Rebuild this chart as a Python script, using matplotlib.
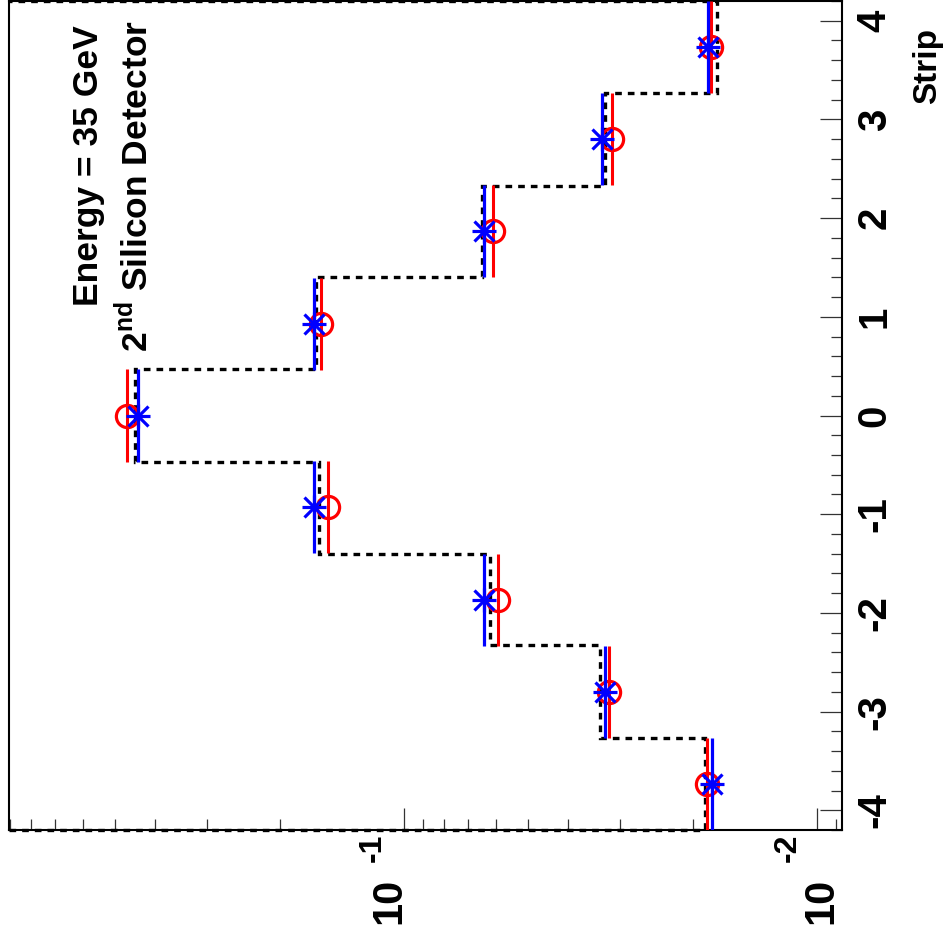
import numpy as np
import matplotlib
matplotlib.use("Agg")
from matplotlib import pyplot as plt
from matplotlib import transforms

plt.rcParams['font.family'] = ['Liberation Sans', 'DejaVu Sans']
plt.rcParams['font.weight'] = 'bold'
plt.rcParams['mathtext.fontset'] = 'custom'
plt.rcParams['mathtext.rm'] = 'Liberation Sans:bold'
plt.rcParams['mathtext.bf'] = 'Liberation Sans:bold'
plt.rcParams['axes.unicode_minus'] = False

# strip bins (the picture is a ROOT plot turned by 90 degrees)
strip_centers = [-3.73, -2.8, -1.87, -0.93, 0.0, 0.93, 1.87, 2.8, 3.73]
strip_edges = [-4.2, -3.27, -2.33, -1.4, -0.47, 0.47, 1.4, 2.33, 3.27, 4.2]
half_width = 0.467

# values per strip
hist_vals = [0.0187, 0.0335, 0.0619, 0.1606, 0.448, 0.1633, 0.0647, 0.0326, 0.0175]
red_vals = [0.0185, 0.0319, 0.0592, 0.153, 0.469, 0.159, 0.0609, 0.0314, 0.0181]
blue_vals = [0.0180, 0.0326, 0.0640, 0.165, 0.4417, 0.1656, 0.0640, 0.0332, 0.0184]

strip_ticks = [-4, -3, -2, -1, 0, 1, 2, 3, 4]
log_ticks = [0.1, 0.01]
log_exps = ['-1', '-2']
val_lim = (0.905, 0.00872)
strip_lim = (-4.2, 4.2)

W, H = 945, 940
fig = plt.figure(figsize=(W / 100, H / 100), dpi=100)
ax = fig.add_axes([9 / W, 1 - 830 / H, (841.7 - 9) / W, (830 - 1) / H])

ax.set_xscale('log')
ax.set_xlim(val_lim)
ax.set_ylim(strip_lim)

# dashed histogram
ax.stairs(hist_vals, strip_edges, orientation='horizontal', baseline=val_lim[0],
          color='black', lw=2.4, linestyle=(0, (2, 1.8)), clip_on=False, zorder=2)

# red circles
ax.errorbar(red_vals, strip_centers, yerr=half_width, fmt='o', ms=16, mfc='none',
            mec='red', mew=2.3, ecolor='red', elinewidth=2.2, capsize=0, zorder=3)

# blue stars
ax.errorbar(blue_vals, strip_centers, yerr=half_width, fmt='none', ecolor='blue',
            elinewidth=2.3, capsize=0, zorder=4)
ax.plot(blue_vals, strip_centers, ls='none', marker='+', ms=17, mew=2.3, color='blue', zorder=5)
ax.plot(blue_vals, strip_centers, ls='none', marker='x', ms=15, mew=2.3, color='blue', zorder=5)

# ticks
ax.xaxis.set_ticks_position('bottom')
ax.yaxis.set_ticks_position('right')
ax.set_yticks(strip_ticks)
ax.yaxis.set_minor_locator(matplotlib.ticker.MultipleLocator(0.2))
ax.tick_params(which='both', direction='in', labelbottom=False, labelright=False,
               labelleft=False, width=0.9, color='#333333')
ax.tick_params(which='major', length=16)
ax.tick_params(which='minor', length=8)
for sp in ax.spines.values():
    sp.set_linewidth(1.5)

px = lambda dx, dy: transforms.ScaledTranslation(dx / 100, dy / 100, fig.dpi_scale_trans)

# strip labels on the right
ytrans = transforms.blended_transform_factory(ax.transAxes, ax.transData)
for s in strip_ticks:
    ax.text(1, s, str(s), transform=ytrans + px(44, 0), rotation=90,
            rotation_mode='anchor', ha='center', va='baseline', fontsize=29,
            fontweight='bold', clip_on=False)

# log labels at the bottom
xtrans = ax.get_xaxis_transform()
label_dx = [-4, 15]
exp_dx = [-23, -21]
for v, e, dx, edx in zip(log_ticks, log_exps, label_dx, exp_dx):
    ax.text(v, 0, '10', transform=xtrans + px(dx, -48), rotation=90,
            rotation_mode='anchor', ha='right', va='baseline', fontsize=30,
            fontweight='bold', clip_on=False)
    ax.text(v, 0, e, transform=xtrans + px(edx, -4), rotation=90,
            rotation_mode='anchor', ha='right', va='baseline', fontsize=23,
            fontweight='bold', clip_on=False)

def fig_px(x, y):
    return x / W, 1 - y / H

fig.text(*fig_px(936, 28), 'Strip', rotation=90, rotation_mode='anchor',
         ha='right', va='baseline', fontsize=24, fontweight='bold')
fig.text(*fig_px(98, 25), 'Energy = 35 GeV', rotation=90, rotation_mode='anchor',
         ha='right', va='baseline', fontsize=25.5, fontweight='bold')
fig.text(*fig_px(147, 20), r'2$^{\rm nd}$ Silicon Detector', rotation=90,
         rotation_mode='anchor', ha='right', va='baseline', fontsize=25.5,
         fontweight='bold')

fig.savefig('out.png', dpi=100)
